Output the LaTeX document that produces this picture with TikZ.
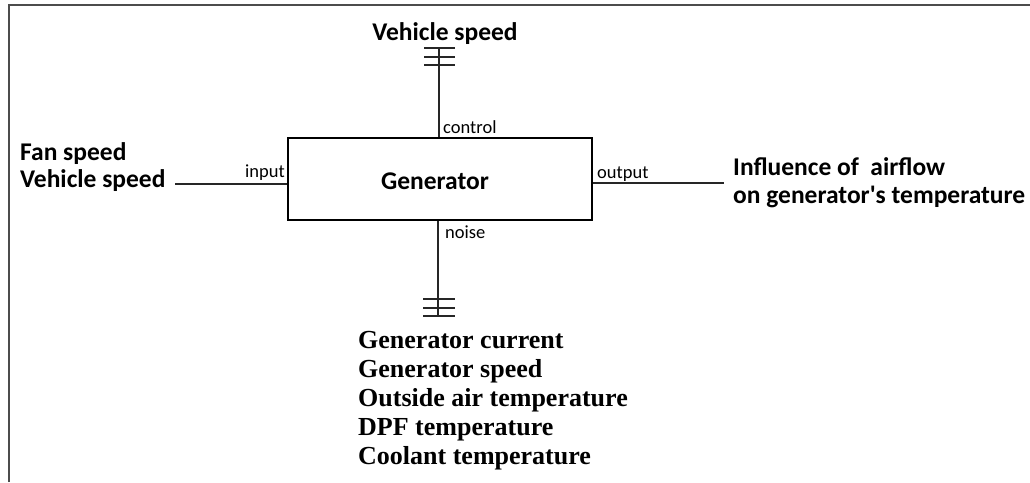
\documentclass[tikz,border=0pt]{standalone}
\usepackage{fontspec}
\setmainfont{Carlito}
\newfontfamily\serifbold{Liberation Serif}
\begin{document}
\begin{tikzpicture}[x=1pt,y=-1pt,
  lbl/.style={font=\bfseries\fontsize{25.5}{30}\selectfont, inner sep=0pt, anchor=base west},
  small/.style={font=\fontsize{18.5}{22}\selectfont, inner sep=0pt},
  conn/.style={line width=1.5pt, black!85},
  tick/.style={line width=1.5pt, black!85},
  listtxt/.style={font=\serifbold\bfseries\fontsize{26}{29}\selectfont, inner sep=0pt, anchor=base west}]
\useasboundingbox (0,0) rectangle (1030,482);
% frame
\draw[line width=2pt, black!70] (9,482) -- (9,5) -- (1030,5);
% box
\node[draw, line width=1.5pt, minimum width=304pt, minimum height=82pt, inner sep=0pt] (gen) at (440,179) {};
\node[font=\bfseries\fontsize{25.5}{30}\selectfont, inner sep=0pt, anchor=base] (gtxt) at (435,189) {Generator};
% top: control
\node[lbl, anchor=base] (vs) at (445,40) {Vehicle speed};
\coordinate (ctop) at (439,48);
\draw[conn] (ctop) -- (ctop |- gen.north);
\foreach \yy in {48,57,65} \draw[tick] (424,\yy) -- (455,\yy);
\node[small, anchor=base west] (ctl) at (443,133) {control};
% left: input
\node[lbl] (fan) at (20,160) {Fan speed};
\node[lbl] (vs2) at (20,187) {Vehicle speed};
\coordinate (inl) at (175,184);
\draw[conn] (inl) -- (gen.west |- inl);
\node[small, anchor=base east] (inp) at (285,177) {input};
% right: output
\coordinate (outr) at (724,183);
\draw[conn] (gen.east |- outr) -- (outr);
\node[small, anchor=base west] (outp) at (597,178) {output};
\node[lbl] (inf1) at (733,175) {Influence of\ \ airflow};
\node[lbl] (inf2) at (733,203) {on generator\textquotesingle s temperature};
% bottom: noise
\coordinate (nbot) at (438,316);
\draw[conn] (gen.south -| nbot) -- (nbot);
\foreach \yy in {299,308,316} \draw[tick] (423,\yy) -- (455,\yy);
\node[small, anchor=base west] (noise) at (445,238) {noise};
\node[listtxt] (l1) at (358,348) {Generator current};
\node[listtxt] (l2) at (358,377) {Generator speed};
\node[listtxt] (l3) at (358,406) {Outside air temperature};
\node[listtxt] (l4) at (358,435) {DPF temperature};
\node[listtxt] (l5) at (358,464) {Coolant temperature};
\end{tikzpicture}
\end{document}
